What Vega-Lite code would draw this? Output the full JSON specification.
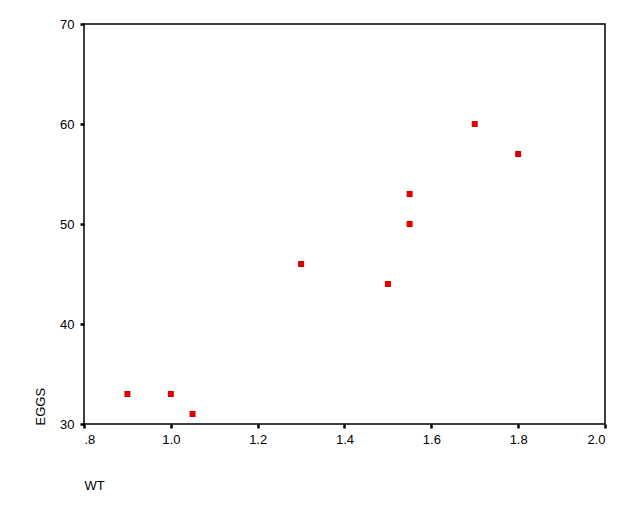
{
  "$schema": "https://vega.github.io/schema/vega-lite/v6.json",
  "width": 521,
  "height": 400,
  "autosize": {"type": "none"},
  "padding": {"left": 84, "top": 24, "right": 27, "bottom": 82},
  "background": "white",
  "config": {
    "view": {"stroke": "black", "strokeWidth": 1.5},
    "font": "Liberation Sans",
    "axis": {"grid": false, "domain": false, "labelFont": "Liberation Sans", "titleFont": "Liberation Sans", "labelFontSize": 13, "titleFontSize": 13, "titleFontWeight": "normal", "labelColor": "black", "titleColor": "black", "tickColor": "black", "tickSize": 4, "tickWidth": 2.5}
  },
  "data": {
    "values": [
      {"WT": 0.9, "EGGS": 33},
      {"WT": 1.0, "EGGS": 33},
      {"WT": 1.05, "EGGS": 31},
      {"WT": 1.3, "EGGS": 46},
      {"WT": 1.5, "EGGS": 44},
      {"WT": 1.55, "EGGS": 50},
      {"WT": 1.55, "EGGS": 53},
      {"WT": 1.7, "EGGS": 60},
      {"WT": 1.8, "EGGS": 57}
    ]
  },
  "mark": {"type": "square", "filled": true, "color": "#e00000", "size": 36, "opacity": 1},
  "encoding": {
    "x": {
      "field": "WT", "type": "quantitative",
      "scale": {"domain": [0.8, 2.0], "nice": false, "zero": false},
      "axis": {"values": [0.8, 1.0, 1.2, 1.4, 1.6, 1.8, 2.0], "labelExpr": "datum.value < 0.9 ? '.8' : format(datum.value, '.1f')", "labelPadding": 5, "title": "WT", "titleAnchor": "start", "titleAlign": "left", "titleX": 0, "titleY": 61, "titleBaseline": "middle"}
    },
    "y": {
      "field": "EGGS", "type": "quantitative",
      "scale": {"domain": [30, 70], "nice": false, "zero": false},
      "axis": {"values": [30, 40, 50, 60, 70], "labelPadding": 6, "title": "EGGS", "titleAngle": -90, "titleAlign": "left", "titleX": -44, "titleY": 401, "titleBaseline": "middle", "titleAnchor": null}
    }
  }
}
